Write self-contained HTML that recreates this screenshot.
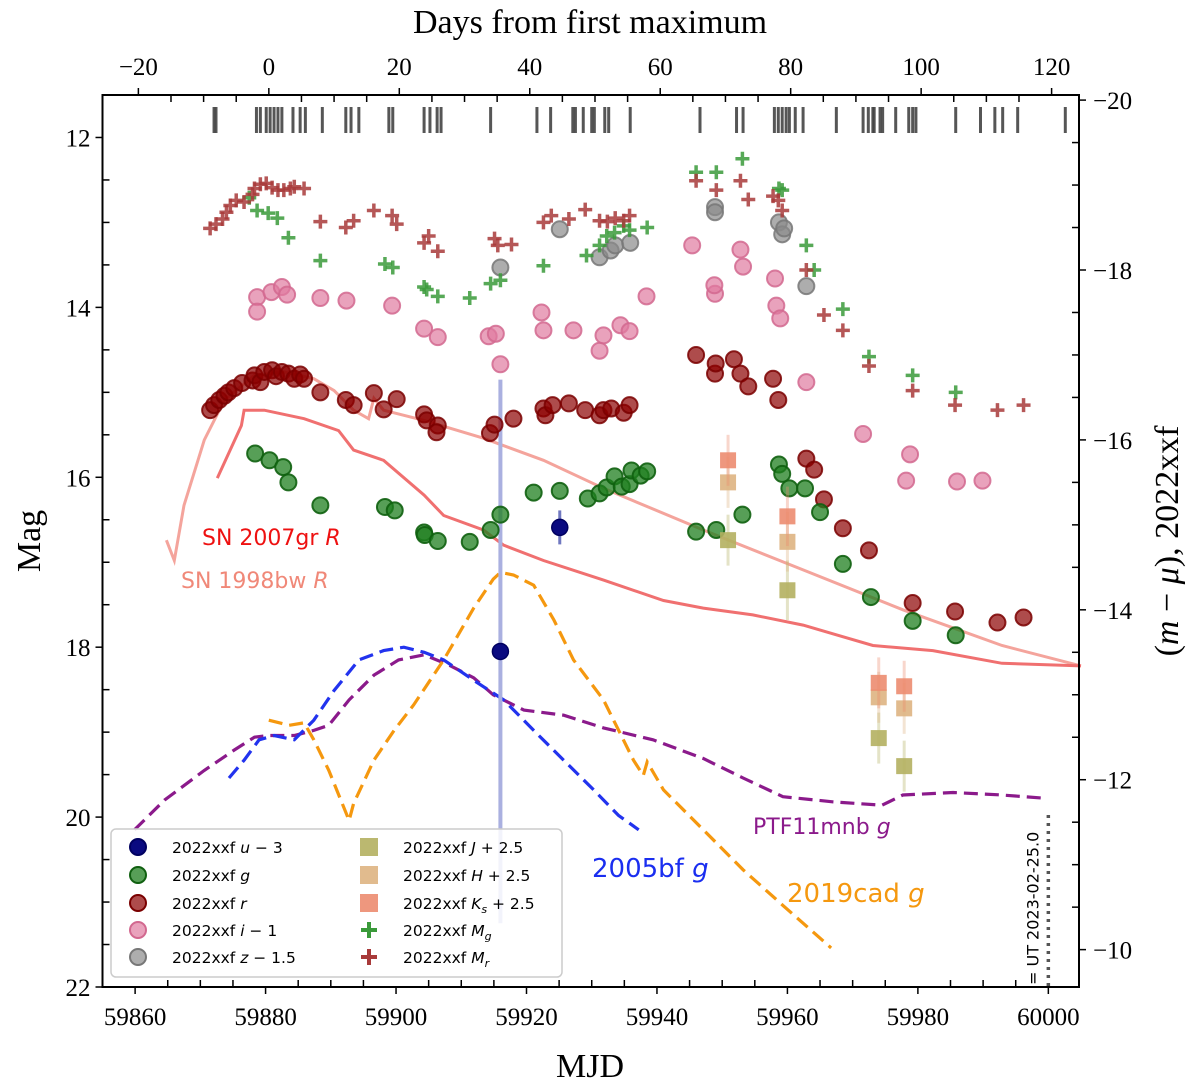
<!DOCTYPE html>
<html><head><meta charset="utf-8"><style>
body{margin:0;background:#fff}
svg{display:block}
.tk{font-family:"Liberation Serif",serif;font-size:25px;fill:#000}
.lg{font-family:"DejaVu Sans","Liberation Sans",sans-serif;font-size:15.5px;fill:#000}
.an{font-family:"DejaVu Sans","Liberation Sans",sans-serif}
</style></head><body>
<svg id="chart" width="1200" height="1088" viewBox="0 0 1200 1088" xmlns="http://www.w3.org/2000/svg"></svg>
<script>
// ---- data ----
const gData=[[59878.4,15.72],[59880.6,15.80],[59882.7,15.88],[59883.5,16.06],[59888.4,16.33],[59898.3,16.35],[59899.8,16.39],[59904.3,16.65],[59904.4,16.68],[59906.4,16.75],[59911.3,16.76],[59914.5,16.62],[59916.0,16.44],[59921.1,16.18],[59925.1,16.16],[59929.4,16.25],[59931.2,16.19],[59932.3,16.12],[59933.5,15.99],[59934.6,16.11],[59935.8,16.08],[59936.1,15.92],[59937.5,15.98],[59938.5,15.93],[59946.0,16.64],[59949.1,16.62],[59953.1,16.44],[59958.7,15.85],[59959.2,15.96],[59960.3,16.13],[59962.7,16.13],[59965.0,16.41],[59968.5,17.02],[59972.8,17.41],[59979.2,17.69],[59985.8,17.86]];
const rData=[[59871.5,15.21],[59872.1,15.15],[59872.9,15.09],[59873.7,15.04],[59874.3,15.00],[59875.2,14.95],[59876.4,14.89],[59878.0,14.86],[59878.3,14.80],[59879.2,14.88],[59879.8,14.76],[59881.0,14.74],[59881.6,14.81],[59882.5,14.76],[59883.5,14.78],[59884.4,14.84],[59885.3,14.79],[59885.9,14.84],[59888.4,15.00],[59892.3,15.09],[59893.5,15.15],[59896.6,15.01],[59898.1,15.20],[59900.1,15.08],[59904.3,15.26],[59904.7,15.33],[59906.4,15.39],[59906.2,15.47],[59914.4,15.48],[59915.1,15.38],[59918.0,15.31],[59922.6,15.19],[59922.9,15.27],[59924.0,15.15],[59926.5,15.13],[59929.0,15.21],[59931.2,15.27],[59931.8,15.21],[59933.0,15.19],[59934.9,15.24],[59935.8,15.15],[59946.0,14.56],[59948.9,14.78],[59949.0,14.66],[59951.8,14.61],[59952.8,14.78],[59954.0,14.93],[59957.8,14.84],[59958.6,15.09],[59962.9,15.78],[59964.1,15.91],[59965.6,16.26],[59968.5,16.60],[59972.5,16.86],[59979.2,17.48],[59985.7,17.58],[59992.2,17.71],[59996.2,17.65]];
const iData=[[59878.7,13.88],[59878.7,14.05],[59880.9,13.82],[59882.5,13.76],[59883.3,13.85],[59888.4,13.89],[59892.4,13.92],[59899.4,13.98],[59904.3,14.25],[59906.4,14.35],[59914.2,14.34],[59915.3,14.31],[59916.0,14.67],[59922.3,14.06],[59922.6,14.27],[59927.2,14.27],[59931.2,14.51],[59931.8,14.33],[59934.4,14.21],[59935.8,14.28],[59938.4,13.87],[59945.4,13.27],[59948.9,13.84],[59948.8,13.74],[59952.8,13.32],[59953.2,13.52],[59958.1,13.66],[59958.3,13.98],[59958.9,14.13],[59962.9,14.88],[59971.6,15.49],[59978.2,16.04],[59978.8,15.73],[59986.0,16.05],[59989.9,16.04]];
const zData=[[59916.0,13.53],[59925.1,13.08],[59931.2,13.41],[59932.9,13.33],[59933.6,13.27],[59935.9,13.24],[59948.9,12.82],[59948.9,12.88],[59958.7,13.00],[59959.2,13.14],[59959.5,13.07],[59962.9,13.75]];
const uData=[[59925.1,16.59],[59916.0,18.05]];
const uErr=[0.2,3.2];
const jData=[[59950.9,16.74],[59960.0,17.33],[59974.0,19.07],[59977.9,19.40]];
const hData=[[59950.9,16.06],[59960.0,16.76],[59974.0,18.59],[59977.9,18.72]];
const ksData=[[59950.9,15.80],[59960.0,16.46],[59974.0,18.42],[59977.9,18.46]];
const nirErr=[0.3,0.35,0.3,0.3];
const mgData=[[59877.5,12.71],[59878.7,12.86],[59880.4,12.89],[59881.8,12.95],[59883.5,13.18],[59888.4,13.45],[59898.3,13.49],[59899.5,13.53],[59904.3,13.76],[59904.7,13.79],[59906.4,13.87],[59911.3,13.89],[59914.5,13.72],[59916.0,13.68],[59922.6,13.51],[59929.2,13.39],[59931.2,13.27],[59932.3,13.16],[59933.5,13.12],[59934.9,13.04],[59935.8,13.09],[59938.5,13.06],[59946.0,12.41],[59949.1,12.41],[59953.1,12.25],[59958.7,12.60],[59959.2,12.62],[59962.9,13.27],[59964.1,13.56],[59968.5,14.02],[59972.5,14.58],[59979.2,14.80],[59985.8,15.00]];
const mrData=[[59871.5,13.07],[59872.4,13.02],[59873.4,12.96],[59874.0,12.88],[59874.6,12.80],[59875.5,12.74],[59876.7,12.76],[59878.0,12.67],[59878.3,12.60],[59879.2,12.55],[59880.1,12.54],[59881.0,12.59],[59881.9,12.62],[59882.8,12.62],[59883.8,12.60],[59884.4,12.58],[59885.9,12.60],[59888.4,12.99],[59892.3,13.06],[59893.5,12.98],[59896.6,12.86],[59899.4,12.92],[59900.1,13.02],[59904.3,13.24],[59905.0,13.16],[59906.4,13.34],[59915.1,13.19],[59915.6,13.27],[59917.7,13.26],[59922.6,13.00],[59923.8,12.92],[59926.5,12.96],[59929.0,12.85],[59931.2,12.98],[59932.4,12.99],[59933.6,12.95],[59934.9,12.98],[59935.8,12.92],[59946.0,12.51],[59949.1,12.62],[59952.8,12.51],[59954.0,12.73],[59957.8,12.69],[59958.6,12.74],[59959.2,12.86],[59962.9,13.56],[59965.6,14.09],[59968.5,14.27],[59972.5,14.69],[59979.2,14.98],[59985.7,15.15],[59992.2,15.21],[59996.2,15.15]];
const sn07gr=[[59872.6,16.01],[59876.3,15.39],[59876.7,15.21],[59879.8,15.21],[59885.9,15.31],[59891.2,15.45],[59893.5,15.68],[59898.1,15.80],[59904.3,16.21],[59907.3,16.45],[59913.4,16.62],[59916.5,16.80],[59922.6,16.98],[59931.8,17.21],[59941.0,17.45],[59947.1,17.54],[59954.7,17.62],[59962.4,17.74],[59973.1,17.98],[59982.3,18.04],[59992.9,18.19],[60005,18.22]];
const sn98bw=[[59864.8,16.74],[59866.0,16.98],[59867.5,16.33],[59870.6,15.56],[59873.7,15.09],[59878.3,14.80],[59882.8,14.76],[59887.4,14.84],[59890.5,14.98],[59893.5,15.21],[59895.8,15.31],[59896.6,15.07],[59898.1,15.21],[59904.3,15.33],[59913.4,15.54],[59922.6,15.80],[59931.8,16.13],[59947.1,16.62],[59962.4,17.09],[59977.7,17.56],[59992.9,17.98],[60005,18.22]];
const sn05bf=[[59874.4,19.54],[59876.7,19.33],[59879.0,19.09],[59881.3,19.04],[59884.4,19.09],[59887.4,18.86],[59890.5,18.51],[59894.3,18.15],[59898.1,18.04],[59901.2,18.00],[59904.3,18.06],[59907.3,18.15],[59911.9,18.39],[59916.5,18.62],[59921.1,18.98],[59925.7,19.33],[59930.3,19.68],[59934.1,19.98],[59937.2,20.15]];
const sn19cad=[[59880.5,18.86],[59883.6,18.92],[59885.9,18.89],[59887.4,19.09],[59889.7,19.45],[59892.8,20.04],[59893.5,19.84],[59896.6,19.33],[59899.7,18.98],[59902.7,18.68],[59907.3,18.15],[59911.9,17.54],[59914.9,17.20],[59916.0,17.12],[59918.0,17.15],[59921.1,17.27],[59924.2,17.68],[59927.2,18.15],[59931.8,18.62],[59936.4,19.33],[59937.9,19.51],[59938.5,19.35],[59941.0,19.68],[59947.1,20.15],[59953.2,20.62],[59959.3,21.04],[59966.7,21.54]];
const ptf11=[[59859.9,20.15],[59864.5,19.80],[59870.6,19.45],[59875.2,19.21],[59878.3,19.06],[59880.5,19.04],[59884.4,19.04],[59887.4,18.98],[59889.7,18.92],[59892.8,18.62],[59896.6,18.33],[59900.4,18.15],[59904.3,18.09],[59908.1,18.21],[59911.9,18.36],[59914.9,18.56],[59919.6,18.74],[59925.7,18.80],[59931.8,18.95],[59939.4,19.09],[59947.1,19.31],[59953.2,19.54],[59959.3,19.76],[59966.9,19.82],[59974.5,19.86],[59977.7,19.74],[59985.4,19.71],[59992.9,19.74],[59999.8,19.78]];
const epochs=[59872.1,59872.4,59878.6,59879.2,59880.1,59880.7,59881.3,59881.9,59882.5,59884.2,59885.3,59886.1,59888.7,59892.3,59893.1,59894.3,59898.9,59899.5,59904.3,59905.2,59906.3,59906.9,59914.5,59921.6,59923.7,59927.1,59927.5,59928.7,59930.0,59930.4,59932.0,59932.6,59935.9,59946.6,59952.2,59953.2,59958.0,59958.6,59959.2,59959.8,59960.3,59961.2,59962.4,59967.5,59971.6,59972.4,59973.1,59973.3,59974.2,59974.6,59976.6,59978.6,59979.2,59979.7,59985.8,59989.6,59991.8,59993.0,59995.3,60002.6];
const xTicks=[59860,59880,59900,59920,59940,59960,59980,60000];
const yTicks=[12,14,16,18,20,22];
const topTicks=[-20,0,20,40,60,80,100,120];
const rightTicks=[-20,-18,-16,-14,-12,-10];
const maxMJD=59880.5, mu=31.56;

// ---- axes ----
const L=102.5,R=1079,T=95,B=987;
const X0=59855,X1=60004.7,Y0=11.5,Y1=22;
const sx=v=>L+(v-X0)/(X1-X0)*(R-L);
const sy=v=>T+(v-Y0)/(Y1-Y0)*(B-T);
const svg=document.getElementById('chart');
const NS='http://www.w3.org/2000/svg';
function mk(tag,attrs,parent){const e=document.createElementNS(NS,tag);for(const k in attrs)e.setAttribute(k,attrs[k]);(parent||svg).appendChild(e);return e;}
function g(name){const e=mk('g',{});


return e;}

const ge=g('observation-epochs');
epochs.forEach(m=>{const l=mk('line',{x1:sx(m),x2:sx(m),y1:107,y2:133,stroke:'#444','stroke-width':3,opacity:0.9},ge);

});

function line(data,color,dash,w,name,op){const gg=g(name);
const p=mk('path',{d:data.map((d,i)=>(i?'L':'M')+sx(d[0]).toFixed(1)+' '+sy(d[1]).toFixed(1)).join(''),fill:'none',stroke:color,'stroke-width':w,'stroke-dasharray':dash||'none',opacity:op||1},gg);

}
line(sn98bw,'#f4a49c','',3,'sn1998bw-template');
line(sn07gr,'#f07070','',3,'sn2007gr-template');
line(ptf11,'#8b1a8b','14 7',3.2,'ptf11mnb-template');
line(sn05bf,'#2233ee','14 7',3.2,'sn2005bf-template');
line(sn19cad,'#f5980f','14 7',3.2,'sn2019cad-template');

const gu=g('u-band');
uData.forEach((d,i)=>{const e=mk('line',{x1:sx(d[0]),x2:sx(d[0]),y1:sy(d[1]-uErr[i]),y2:sy(d[1]+uErr[i]),stroke:i?'#aab0e0':'#7078c0','stroke-width':i?4:3},gu);

});

function circles(data,fill,stroke,name,op){const gg=g(name);
data.forEach(d=>{const c=mk('circle',{cx:sx(d[0]),cy:sy(d[1]),r:8,fill:fill,stroke:stroke,'stroke-width':2,'fill-opacity':op,'stroke-opacity':op+0.15},gg);

});}
function squares(data,fill,name){const gg=g(name);
data.forEach((d,i)=>{const e=mk('line',{x1:sx(d[0]),x2:sx(d[0]),y1:sy(d[1]-nirErr[i]),y2:sy(d[1]+nirErr[i]),stroke:fill,'stroke-width':3,opacity:0.35},gg);


const s=mk('rect',{x:sx(d[0])-8,y:sy(d[1])-8,width:16,height:16,fill:fill,opacity:0.9},gg);

});}
function plus(data,color,name){const gg=g(name);
data.forEach(d=>{const x=sx(d[0]),y=sy(d[1]);
const p=mk('path',{d:`M${x-7} ${y}H${x+7}M${x} ${y-7}V${y+7}`,stroke:color,'stroke-width':3.5,fill:'none',opacity:0.85},gg);

});}

circles(iData,'#e07ba0','#d2688f','i-band',0.7);
circles(zData,'#8a8a8a','#777','z-band',0.7);
circles(rData,'#8b0000','#7a0000','r-band',0.7);
circles(gData,'#1f7f1f','#106010','g-band',0.75);
squares(jData,'#b4b060','j-band');
squares(hData,'#deb482','h-band');
squares(ksData,'#ec8c70','ks-band');
plus(mgData,'#3a9a3a','abs-mag-g');
plus(mrData,'#a83a3a','abs-mag-r');
uData.forEach(d=>{const c=mk('circle',{cx:sx(d[0]),cy:sy(d[1]),r:8,fill:'#0a0a80',stroke:'#000060','stroke-width':1.5},gu);

});

const dl=mk('line',{x1:sx(60000),x2:sx(60000),y1:815,y2:B,stroke:'#555','stroke-width':3.5,'stroke-dasharray':'3 5'});


const dt=mk('text',{x:0,y:0,transform:`translate(${sx(60000)-10},985) rotate(-90)`,class:'an',style:'font-size:16px',fill:'#000'});
dt.textContent='= UT 2023-02-25.0';



function ann(txt,x,y,color,size,name,it){const t=mk('text',{x:x,y:y,class:'an',style:'font-size:'+size+'px',fill:color});
t.innerHTML=txt+' <tspan font-style="italic">'+it+'</tspan>';

}
ann('SN 2007gr',202,545,'#ee1111',22,'sn2007gr-label','R');
ann('SN 1998bw',181,588,'#f08878',22,'sn1998bw-label','R');
ann('2005bf',592,877,'#1a2ef0',26,'sn2005bf-label','g');
ann('2019cad',787,902,'#f5980f',26,'sn2019cad-label','g');
ann('PTF11mnb',753,834,'#8b1a8b',22,'ptf11mnb-label','g');

const fr=mk('rect',{x:L,y:T,width:R-L,height:B-T,fill:'none',stroke:'#000','stroke-width':2});


const ax=g('axes');
for(let v=59860;v<=60000;v+=5){const x=sx(v);const maj=v%20===0;
mk('line',{x1:x,x2:x,y1:B,y2:maj?B+7:B-7,stroke:'#000','stroke-width':1.5},ax);}
xTicks.forEach(v=>{const t=mk('text',{x:sx(v),y:B+38,'text-anchor':'middle',class:'tk'},ax);t.textContent=v;

});
for(let v=12;v<=22;v+=0.5){const y=sy(v);const maj=v%2===0;
mk('line',{x1:L,x2:maj?L-7:L+7,y1:y,y2:y,stroke:'#000','stroke-width':1.5},ax);}
yTicks.forEach(v=>{const t=mk('text',{x:L-12,y:sy(v)+9,'text-anchor':'end',class:'tk'},ax);t.textContent=v;

});
for(let d=-20;d<=120;d+=5){const x=sx(d+maxMJD);if(x<L||x>R)continue;const maj=d%20===0;
mk('line',{x1:x,x2:x,y1:T,y2:maj?T-7:T+7,stroke:'#000','stroke-width':1.5},ax);}
topTicks.forEach(v=>{const t=mk('text',{x:sx(v+maxMJD),y:T-20,'text-anchor':'middle',class:'tk'},ax);t.textContent=v<0?'\u2212'+(-v):v;

});
for(let a=-20;a<=-9.5;a+=0.5){const y=sy(a+mu);if(y<T||y>B)continue;const maj=a%2===0;
mk('line',{x1:R,x2:maj?R+7:R-7,y1:y,y2:y,stroke:'#000','stroke-width':1.5},ax);}
rightTicks.forEach(v=>{const t=mk('text',{x:R+14,y:sy(v+mu)+9,class:'tk'},ax);t.textContent='\u2212'+(-v);

});

function lab(txt,x,y,rot,name,size){const t=mk('text',{transform:`translate(${x},${y}) rotate(${rot})`,'text-anchor':'middle',class:'tk',style:'font-size:'+size+'px'});t.innerHTML=txt;

}
lab('MJD',590,1077,0,'x-axis-title',34);
lab('Days from first maximum',590,33,0,'top-axis-title',34);
lab('Mag',40,541,-90,'y-axis-title',34);
lab('(<tspan font-style="italic">m</tspan> − <tspan font-style="italic">μ</tspan>), 2022xxf',1178,541,-90,'right-axis-title',34);

const lgd=g('legend');
const lb=mk('rect',{x:111,y:829,width:451,height:148,rx:5,fill:'#fff','fill-opacity':0.85,stroke:'#ccc','stroke-width':1.5},lgd);


const rows=[847,875,903,930,957];
const left=[['u','#0a0a80','#000060',1,'u − 3'],['g','#1f7f1f','#106010',.75,'g'],['r','#8b0000','#7a0000',.7,'r'],['i','#e07ba0','#d2688f',.7,'i − 1'],['z','#8a8a8a','#777',.7,'z − 1.5']];
left.forEach((e,i)=>{const c=mk('circle',{cx:138,cy:rows[i],r:8,fill:e[1],stroke:e[2],'stroke-width':2,'fill-opacity':e[3]},lgd);


const parts=e[4].split(' ');const t=mk('text',{x:172,y:rows[i]+6,class:'lg'},lgd);
t.innerHTML='2022xxf <tspan font-style="italic">'+parts[0]+'</tspan>'+(parts.length>1?' '+parts[1]+' '+parts[2]:'');

});
const right=[['j','#b4b060','<tspan font-style="italic">J</tspan> + 2.5'],['h','#deb482','<tspan font-style="italic">H</tspan> + 2.5'],['ks','#ec8c70','<tspan font-style="italic">K<tspan font-size="11px" dy="4">s</tspan></tspan><tspan dy="-4"> + 2.5</tspan>'],['mg','#3a9a3a','<tspan font-style="italic">M<tspan font-size="11px" dy="4">g</tspan></tspan>'],['mr','#a83a3a','<tspan font-style="italic">M<tspan font-size="11px" dy="4">r</tspan></tspan>']];
right.forEach((e,i)=>{const y=rows[i];let m;
if(i<3)m=mk('rect',{x:360,y:y-9,width:18,height:18,fill:e[1],opacity:0.9},lgd);
else m=mk('path',{d:`M361 ${y}H377M369 ${y-8}V${y+8}`,stroke:e[1],'stroke-width':4},lgd);


const t=mk('text',{x:403,y:y+6,class:'lg'},lgd);t.innerHTML='2022xxf '+e[2];

});
</script>
</body></html>
